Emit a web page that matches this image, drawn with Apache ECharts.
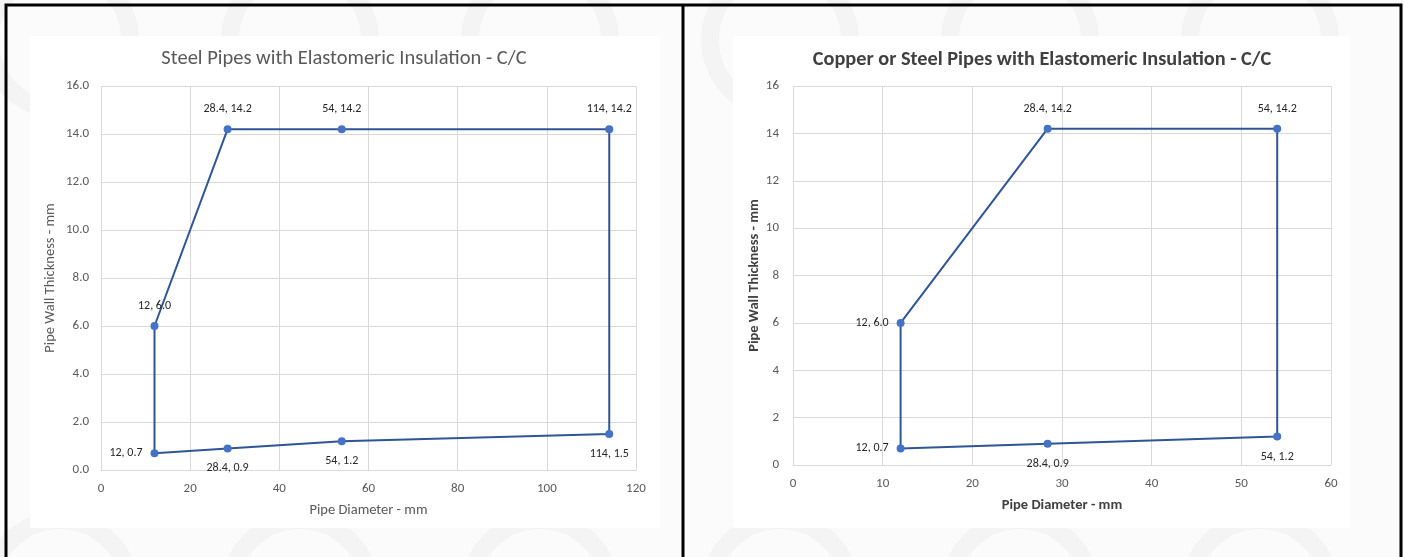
<!DOCTYPE html>
<html>
<head>
<meta charset="utf-8">
<script src="https://cdn.jsdelivr.net/npm/echarts@6/dist/echarts.min.js"></script>
<style>
  html, body { margin: 0; padding: 0; background: #fbfbfb; }
  #chart { width: 1404px; height: 557px; }
</style>
</head>
<body>
<div id="chart"></div>
<script>
// left chart: steel pipes (closed outline)
var steelX = [12, 28.4, 54, 114, 114, 54, 28.4, 12, 12];
var steelY = [0.7, 0.9, 1.2, 1.5, 14.2, 14.2, 14.2, 6.0, 0.7];
var steelLabelPos = ['left', 'bottom', 'bottom', 'bottom', 'top', 'top', 'top', 'top', null];

// right chart: copper or steel pipes
var copperX = [12, 28.4, 54, 54, 28.4, 12, 12];
var copperY = [0.7, 0.9, 1.2, 14.2, 14.2, 6.0, 0.7];
var copperLabelPos = ['left', 'bottom', 'bottom', 'top', 'top', 'left', null];

var FONT = "Carlito, 'Liberation Sans Narrow', 'Open Sans', sans-serif";
var LINE = '#2f5597';
var DOT = '#4472c4';

function buildData(xs, ys, pos) {
    var out = [];
    for (var i = 0; i < xs.length; i++) {
        var d = { value: [xs[i], ys[i]] };
        if (pos[i]) {
            d.label = { show: true, position: pos[i], distance: pos[i] === 'left' ? 8 : 10 };
        } else {
            d.label = { show: false };
            d.symbolSize = 0;
        }
        out.push(d);
    }
    return out;
}

function fmt(p) {
    return p.value[0] + ', ' + p.value[1].toFixed(1);
}

// faint watermark rings behind the panels
var rings = [];
var cx = [60, 300, 540, 780, 1020, 1260];
for (var i = 0; i < cx.length; i++) {
    rings.push({ type: 'circle', shape: { cx: cx[i], cy: 40, r: 70 }, style: { fill: 'none', stroke: '#f4f4f4', lineWidth: 18 }, z: -10 });
    rings.push({ type: 'circle', shape: { cx: cx[i], cy: 590, r: 70 }, style: { fill: 'none', stroke: '#f4f4f4', lineWidth: 18 }, z: -10 });
}

var chart = echarts.init(document.getElementById('chart'));
chart.setOption({
    backgroundColor: '#fbfbfb',
    textStyle: { fontFamily: FONT },
    graphic: rings.concat([
        { type: 'rect', shape: { x: 30, y: 36, width: 630, height: 492 }, style: { fill: '#fff' }, z: -5 },
        { type: 'rect', shape: { x: 733, y: 36, width: 617, height: 492 }, style: { fill: '#fff' }, z: -5 },
        { type: 'rect', shape: { x: 6, y: 5, width: 1395, height: 560 }, style: { fill: 'none', stroke: '#000', lineWidth: 3 }, z: 10 },
        { type: 'line', shape: { x1: 683, y1: 5, x2: 683, y2: 557 }, style: { stroke: '#000', lineWidth: 3 }, z: 10 }
    ]),
    title: [{
        text: 'Steel Pipes with Elastomeric Insulation - C/C',
        left: 339, top: 43, textAlign: 'center',
        textStyle: { fontFamily: FONT, fontSize: 20.5, fontWeight: 'normal', color: '#595959' }
    }, {
        text: 'Copper or Steel Pipes with Elastomeric Insulation - C/C',
        left: 1037, top: 45, textAlign: 'center',
        textStyle: { fontFamily: FONT, fontSize: 20.3, fontWeight: 'bold', color: '#404040' }
    }],
    grid: [
        { left: 101, top: 86, width: 535, height: 384 },
        { left: 793, top: 86, width: 538, height: 379 }
    ],
    xAxis: [{
        gridIndex: 0, type: 'value', min: 0, max: 120, interval: 20,
        name: 'Pipe Diameter - mm', nameLocation: 'middle', nameGap: 33,
        nameTextStyle: { fontSize: 14.5, color: '#595959' },
        axisLine: { show: true, lineStyle: { color: '#d9d9d9' } },
        axisTick: { show: false },
        axisLabel: { fontSize: 13, color: '#595959', margin: 12 },
        splitLine: { lineStyle: { color: '#d9d9d9' } }
    }, {
        gridIndex: 1, type: 'value', min: 0, max: 60, interval: 10,
        name: 'Pipe Diameter - mm', nameLocation: 'middle', nameGap: 33,
        nameTextStyle: { fontSize: 14.5, fontWeight: 'bold', color: '#404040' },
        axisLine: { show: true, lineStyle: { color: '#d9d9d9' } },
        axisTick: { show: false },
        axisLabel: { fontSize: 13, color: '#595959', margin: 12 },
        splitLine: { lineStyle: { color: '#d9d9d9' } }
    }],
    yAxis: [{
        gridIndex: 0, type: 'value', min: 0, max: 16, interval: 2,
        name: 'Pipe Wall Thickness - mm', nameLocation: 'middle', nameGap: 43,
        nameTextStyle: { fontSize: 14.5, color: '#595959' },
        axisLine: { show: false }, axisTick: { show: false },
        axisLabel: { fontSize: 13, color: '#595959', margin: 12, formatter: function (v) { return v.toFixed(1); } },
        splitLine: { lineStyle: { color: '#d9d9d9' } }
    }, {
        gridIndex: 1, type: 'value', min: 0, max: 16, interval: 2,
        name: 'Pipe Wall Thickness - mm', nameLocation: 'middle', nameGap: 31,
        nameTextStyle: { fontSize: 14.5, fontWeight: 'bold', color: '#404040' },
        axisLine: { show: false }, axisTick: { show: false },
        axisLabel: { fontSize: 13, color: '#595959', margin: 14 },
        splitLine: { lineStyle: { color: '#d9d9d9' } }
    }],
    series: [{
        type: 'line', xAxisIndex: 0, yAxisIndex: 0,
        data: buildData(steelX, steelY, steelLabelPos),
        symbol: 'circle', symbolSize: 8,
        itemStyle: { color: DOT },
        lineStyle: { color: LINE, width: 2 },
        label: { formatter: fmt, fontSize: 12, color: '#262626' },
        animation: false
    }, {
        type: 'line', xAxisIndex: 1, yAxisIndex: 1,
        data: buildData(copperX, copperY, copperLabelPos),
        symbol: 'circle', symbolSize: 8,
        itemStyle: { color: DOT },
        lineStyle: { color: LINE, width: 2 },
        label: { formatter: fmt, fontSize: 12, color: '#262626' },
        animation: false
    }]
});
</script>
</body>
</html>
